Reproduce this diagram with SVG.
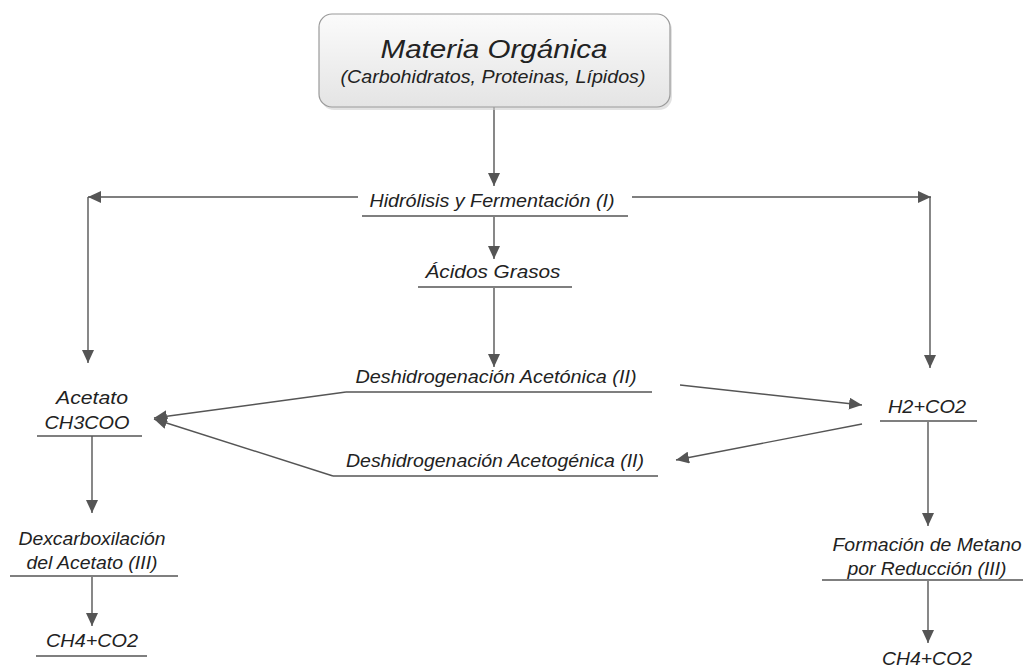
<svg xmlns="http://www.w3.org/2000/svg" width="1023" height="670" viewBox="0 0 1023 670">
<style>
.t{font-family:"Liberation Sans",Arial,sans-serif;font-style:italic;fill:#222;text-anchor:middle;font-size:18px}
.u{stroke:#555;stroke-width:1.3;fill:none}
.c{stroke:#555;stroke-width:1.4;fill:none;marker-end:url(#ah)}
</style>
<defs>
<marker id="ah" markerUnits="userSpaceOnUse" markerWidth="14" markerHeight="12" viewBox="0 0 14 12" refX="13" refY="6" orient="auto">
<path d="M0,0 L13,6 L0,12 Z" fill="#555"/>
</marker>
<linearGradient id="bg" x1="0" y1="0" x2="0" y2="1">
<stop offset="0" stop-color="#fbfbfb"/>
<stop offset="1" stop-color="#e4e4e4"/>
</linearGradient>
</defs>
<g id="connectors">
<line class="c" x1="494" y1="107" x2="494" y2="186"/>
<line class="c" x1="358" y1="197" x2="88" y2="197"/>
<line class="c" x1="88" y1="197" x2="88" y2="363"/>
<line class="c" x1="632" y1="197" x2="931" y2="197"/>
<line class="c" x1="930" y1="197" x2="930" y2="368"/>
<line class="c" x1="494" y1="217" x2="494" y2="259"/>
<line class="c" x1="494" y1="288" x2="494" y2="367"/>
<line class="c" x1="346" y1="392" x2="154" y2="418"/>
<line class="c" x1="333" y1="476" x2="154" y2="419"/>
<line class="c" x1="680" y1="385" x2="862" y2="405"/>
<line class="c" x1="862" y1="424" x2="676" y2="460"/>
<line class="c" x1="92" y1="436" x2="92" y2="513"/>
<line class="c" x1="92" y1="577" x2="92" y2="626"/>
<line class="c" x1="928" y1="422" x2="928" y2="526"/>
<line class="c" x1="928" y1="581" x2="928" y2="643"/>
</g>
<g id="materia">
<rect x="321" y="17" width="351" height="93" rx="13" fill="#cfcfcf" opacity="0.6"/>
<rect x="319" y="14" width="351" height="93" rx="13" fill="url(#bg)" stroke="#9a9a9a" stroke-width="1.2"/>
<text class="t" x="494" y="58" style="font-size:26px" textLength="227" lengthAdjust="spacingAndGlyphs">Materia Orgánica</text>
<text class="t" x="493" y="83" textLength="305" lengthAdjust="spacingAndGlyphs">(Carbohidratos, Proteinas, Lípidos)</text>
</g>
<g id="hidrolisis">
<text class="t" x="492" y="207" textLength="245" lengthAdjust="spacingAndGlyphs">Hidrólisis y Fermentación (I)</text>
<line class="u" x1="362" y1="216" x2="628" y2="216"/>
</g>
<g id="acidos">
<text class="t" x="493" y="278" textLength="135" lengthAdjust="spacingAndGlyphs">Ácidos Grasos</text>
<line class="u" x1="418" y1="287" x2="572" y2="287"/>
</g>
<g id="acetonica">
<text class="t" x="496" y="383" textLength="281" lengthAdjust="spacingAndGlyphs">Deshidrogenación Acetónica (II)</text>
<line class="u" x1="346" y1="392" x2="652" y2="392"/>
</g>
<g id="acetogenica">
<text class="t" x="495" y="467" textLength="298" lengthAdjust="spacingAndGlyphs">Deshidrogenación Acetogénica (II)</text>
<line class="u" x1="333" y1="476" x2="658" y2="476"/>
</g>
<g id="acetato">
<text class="t" x="92" y="404" textLength="72" lengthAdjust="spacingAndGlyphs">Acetato</text>
<text class="t" x="87" y="429" textLength="85" lengthAdjust="spacingAndGlyphs">CH3COO</text>
<line class="u" x1="37" y1="436" x2="142" y2="436"/>
</g>
<g id="h2co2">
<text class="t" x="927" y="413" textLength="78" lengthAdjust="spacingAndGlyphs">H2+CO2</text>
<line class="u" x1="880" y1="421" x2="977" y2="421"/>
</g>
<g id="dexcarboxilacion">
<text class="t" x="92" y="545" textLength="147" lengthAdjust="spacingAndGlyphs">Dexcarboxilación</text>
<text class="t" x="92" y="569" textLength="131" lengthAdjust="spacingAndGlyphs">del Acetato (III)</text>
<line class="u" x1="10" y1="576" x2="178" y2="576"/>
</g>
<g id="ch4left">
<text class="t" x="92" y="647" textLength="92" lengthAdjust="spacingAndGlyphs">CH4+CO2</text>
<line class="u" x1="36" y1="656" x2="147" y2="656"/>
</g>
<g id="formacion">
<text class="t" x="927" y="551" textLength="189" lengthAdjust="spacingAndGlyphs">Formación de Metano</text>
<text class="t" x="927" y="575" textLength="159" lengthAdjust="spacingAndGlyphs">por Reducción (III)</text>
<line class="u" x1="822" y1="580" x2="1023" y2="580"/>
</g>
<g id="ch4right">
<text class="t" x="927" y="665" textLength="90" lengthAdjust="spacingAndGlyphs">CH4+CO2</text>
</g>
</svg>
